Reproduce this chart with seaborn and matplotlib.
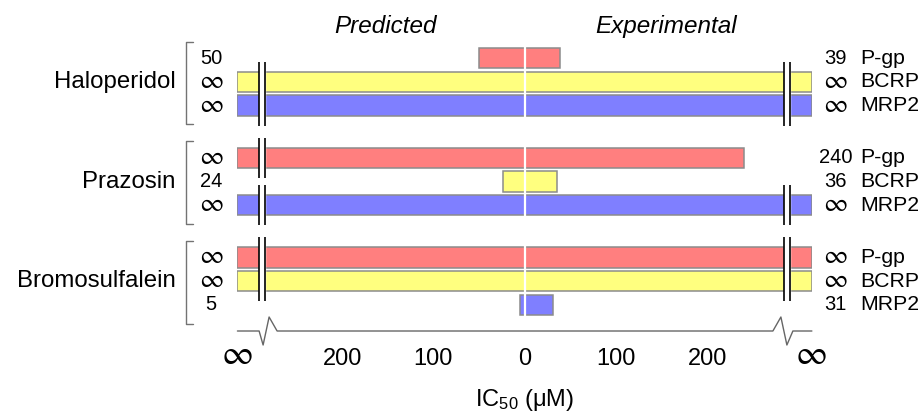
import numpy as np
import pandas as pd
import matplotlib
matplotlib.use('Agg')
import matplotlib.pyplot as plt
import seaborn as sns

INF = np.inf

# IC50 values (uM); np.inf = no inhibition
compounds = ['Haloperidol', 'Prazosin', 'Bromosulfalein']
transporters = ['P-gp', 'BCRP', 'MRP2']
predicted = [[50, INF, INF],
             [INF, 24, INF],
             [INF, INF, 5]]
experimental = [[39, INF, INF],
                [240, 36, INF],
                [INF, INF, 31]]

tick_values = [-315, -200, -100, 0, 100, 200, 315]
tick_labels = ['∞', '200', '100', '0', '100', '200', '∞']
colors = {'P-gp': '#ff7f7f', 'BCRP': '#ffff7f', 'MRP2': '#7f7fff'}

INF_X = 315            # where infinity sits on the axis
BREAK = (284.5, 291)   # axis break (double lines)
GROUP_STEP = 4.22
INF_FONT = 'STIXGeneral'


def fmt(v):
    return '∞' if np.isinf(v) else str(int(v))


# build the long table
rows = []
for g, comp in enumerate(compounds):
    for r, tr in enumerate(transporters):
        rows.append({'compound': comp, 'transporter': tr,
                     'pos': g * GROUP_STEP + r,
                     'pred': predicted[g][r], 'exp': experimental[g][r]})
df = pd.DataFrame(rows)
df['pred_x'] = -df['pred'].clip(upper=INF_X)
df['exp_x'] = df['exp'].clip(upper=INF_X)

sns.set_style('white')
plt.rcParams['font.family'] = ['Liberation Sans', 'DejaVu Sans']
plt.rcParams['text.color'] = 'black'
plt.rcParams['axes.labelcolor'] = 'black'
plt.rcParams['xtick.color'] = 'black'

fig = plt.figure(figsize=(9.21, 4.13), dpi=100)
ax = fig.add_axes([237.3 / 921, 82 / 413, 574.7 / 921, 301 / 413])

bar_kw = dict(y='pos', hue='transporter', palette=colors, orient='h',
              native_scale=True, dodge=False, width=0.85, errorbar=None,
              saturation=1, legend=False, edgecolor='0.55', linewidth=1.1,
              ax=ax)
sns.barplot(data=df, x='pred_x', **bar_kw)
sns.barplot(data=df, x='exp_x', **bar_kw)

ax.set_xlim(-INF_X, INF_X)
ax.set_ylim(11.555, -1.2)
ax.set_ylabel('')

# white gap at zero
ax.vlines(0, -1.0, 11.0, color='white', lw=1.6, zorder=4)

# axis breaks on infinite bars
for g in range(len(compounds)):
    for side, vals in ((-1, predicted[g]), (1, experimental[g])):
        r = 0
        while r < len(vals):
            if np.isinf(vals[r]):
                r0 = r
                while r + 1 < len(vals) and np.isinf(vals[r + 1]):
                    r += 1
                y0 = g * GROUP_STEP + r0 - 0.85
                y1 = g * GROUP_STEP + r + 0.85
                xa, xb = side * BREAK[0], side * BREAK[1]
                ax.fill_betweenx([y0, y1], min(xa, xb), max(xa, xb),
                                 color='white', zorder=4)
                ax.vlines([xa, xb], y0, y1, color='black', lw=1.2, zorder=5)
            r += 1

# labels beside bars
for _, row in df.iterrows():
    for x, v in ((-343.5, row['pred']), (340.5, row['exp'])):
        t = fmt(v)
        if t == '∞':
            ax.text(x, row['pos'], t, ha='center', va='center', fontsize=19,
                    fontfamily=INF_FONT, clip_on=False)
        else:
            ax.text(x, row['pos'], t, ha='center', va='center', fontsize=14.5,
                    clip_on=False)
    ax.text(368, row['pos'], row['transporter'], ha='left', va='center',
            fontsize=15.3, clip_on=False)

# compound names and brackets
for g, comp in enumerate(compounds):
    base = g * GROUP_STEP
    ax.text(-383, base + 1, comp, ha='right', va='center', fontsize=17.3,
            clip_on=False)
    top, bot = base - 0.7, base + 2.8
    ax.plot([-364, -371, -371, -364], [top, top, bot, bot], color='0.45',
            lw=1, clip_on=False)

# headers
ax.text(-152, -1.07, 'Predicted', style='italic', ha='center', va='baseline',
        fontsize=17.5, clip_on=False)
ax.text(155, -1.07, 'Experimental', style='italic', ha='center', va='baseline',
        fontsize=17.5, clip_on=False)

# x axis with breaks drawn by hand
for s in ax.spines.values():
    s.set_visible(False)
px_x = [237.3, 259, 263, 269, 277, 773, 781, 787, 793, 812]
px_y = [331, 331, 345, 317, 331, 331, 317, 345, 331, 331]
ax.plot([(p - 524.65) / 0.9126 for p in px_x],
        [(p - 58.3) / 23.6 for p in px_y],
        color='0.4', lw=1, clip_on=False)

ax.set_yticks([])
ax.set_xticks(tick_values)
# infinity labels are drawn separately in a larger glyph
ax.set_xticklabels(['' if t == '∞' else t for t in tick_labels], fontsize=17)
for v, t in zip(tick_values, tick_labels):
    if t == '∞':
        ax.text(v, 12.62, t, ha='center', va='center', fontsize=25,
                fontfamily=INF_FONT, clip_on=False)
ax.tick_params(axis='x', direction='out', length=6.5, width=1, color='0.4',
               pad=6)
ax.set_xlabel(r'$\mathregular{IC_{50}}$ (μM)', fontsize=17, labelpad=12)

fig.savefig('out.png', dpi=100)
